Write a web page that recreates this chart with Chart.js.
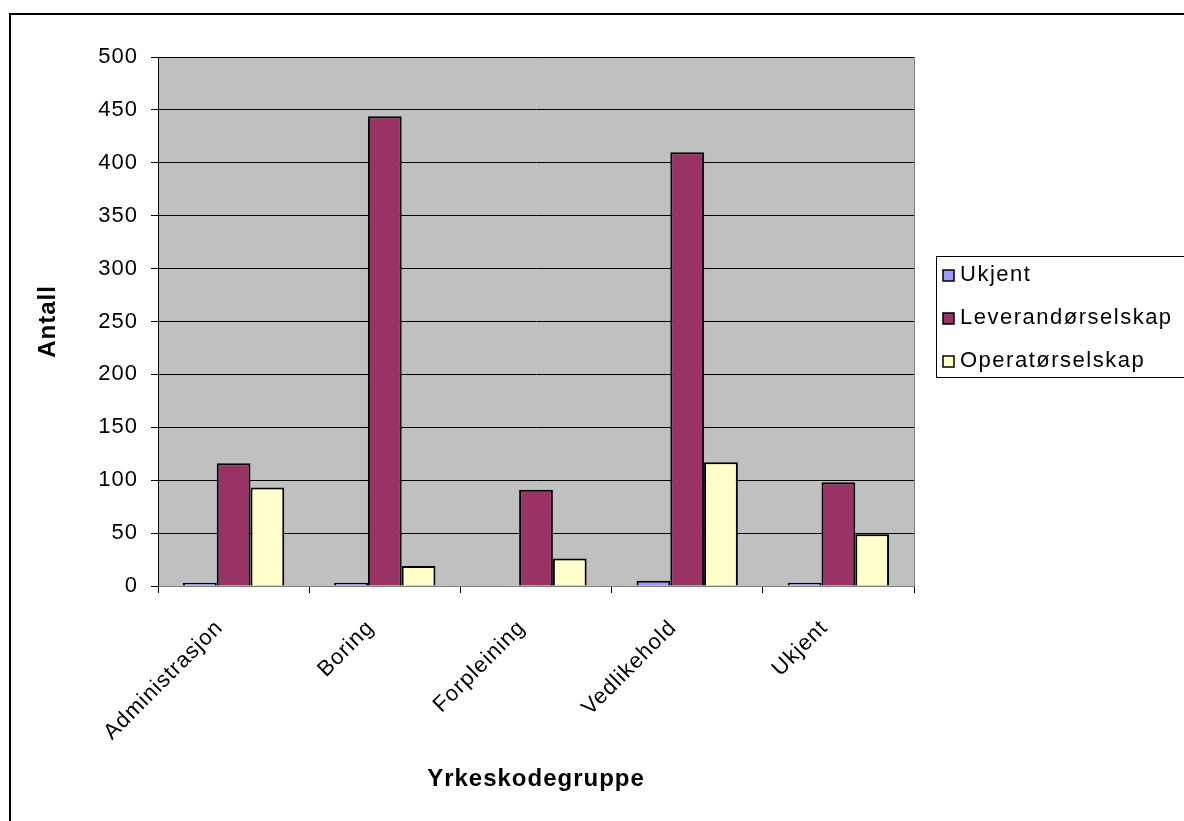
<!DOCTYPE html>
<html lang="no">
<head>
    <meta charset="UTF-8">
    <title>Antall per yrkeskodegruppe</title>
    <script src="https://cdn.jsdelivr.net/npm/chart.js"></script>
    <style>
        body { margin: 0; background: #fff; }
        #wrap { position: absolute; left: 0; top: 0; width: 1184px; height: 821px; }
    </style>
</head>
<body>
    <div id="wrap"><canvas id="chart" width="1184" height="821"></canvas></div>

    <script>
        const categories = ['Administrasjon', 'Boring', 'Forpleining', 'Vedlikehold', 'Ukjent'];
        const ukjent = [3, 3, 0, 5, 3];
        const leverandor = [116, 444, 91, 410, 98];
        const operator = [93, 19, 26, 117, 49];

        const FONT = 'Arial, "Liberation Sans", sans-serif';
        const FS = 22;

        // the original text is a bit wider than Liberation Sans, so space it out
        const spacing = {
            id: 'spacing',
            beforeLayout(chart) { chart.ctx.letterSpacing = '1px'; },
            beforeDraw(chart) { chart.ctx.letterSpacing = '1px'; }
        };

        // grey plot area, outer frame and the boxed legend
        const frame = {
            id: 'frame',
            beforeDraw(chart) {
                const { ctx, chartArea: a } = chart;
                ctx.save();
                ctx.fillStyle = '#fff';
                ctx.fillRect(0, 0, chart.width, chart.height);
                ctx.fillStyle = '#C0C0C0';
                ctx.fillRect(a.left, a.top, a.right - a.left, a.bottom - a.top);
                ctx.strokeStyle = '#808080';
                ctx.lineWidth = 1;
                ctx.strokeRect(a.left + 0.5, a.top + 0.5, a.right - a.left, a.bottom - a.top);
                ctx.restore();
            },
            afterDraw(chart) {
                const { ctx } = chart;
                ctx.save();
                ctx.strokeStyle = '#000';
                ctx.lineWidth = 2;
                ctx.strokeRect(10, 14, 1300, 1000);

                // legend
                ctx.lineWidth = 1;
                ctx.strokeRect(936.5, 256.5, 400, 121);
                ctx.font = FS + 'px ' + FONT;
                ctx.letterSpacing = '1.5px';
                ctx.textBaseline = 'middle';
                ctx.textAlign = 'left';
                chart.data.datasets.forEach((ds, i) => {
                    const y = 275 + i * 43;
                    ctx.fillStyle = ds.backgroundColor;
                    ctx.fillRect(943, y - 5, 11, 11);
                    ctx.strokeStyle = '#000';
                    ctx.lineWidth = 1.5;
                    ctx.strokeRect(943, y - 5, 11, 11);
                    ctx.fillStyle = '#000';
                    ctx.fillText(ds.label, 960, y);
                });
                ctx.restore();
            }
        };

        new Chart(document.getElementById('chart'), {
            type: 'bar',
            data: {
                labels: categories,
                datasets: [
                    { label: 'Ukjent', data: ukjent, backgroundColor: '#9999FF', borderColor: '#000', borderWidth: 2 },
                    { label: 'Leverandørselskap', data: leverandor, backgroundColor: '#993366', borderColor: '#000', borderWidth: 2 },
                    { label: 'Operatørselskap', data: operator, backgroundColor: '#FFFFCC', borderColor: '#000', borderWidth: 2 }
                ]
            },
            options: {
                responsive: false,
                animation: false,
                devicePixelRatio: 1,
                layout: { padding: { top: 57, right: 270, left: 0, bottom: 0 } },
                datasets: { bar: { categoryPercentage: 0.67, barPercentage: 1.0 } },
                plugins: {
                    legend: { display: false },
                    tooltip: { enabled: false }
                },
                scales: {
                    x: {
                        afterFit: (s) => { s.height = 235; },
                        grid: { drawOnChartArea: false, offset: true, tickLength: 7, tickColor: '#000' },
                        border: { color: '#808080' },
                        ticks: { minRotation: 45, maxRotation: 45, padding: 22, labelOffset: -14, color: '#000', font: { family: FONT, size: FS } },
                        title: { display: true, text: 'Yrkeskodegruppe', color: '#000', padding: { bottom: 27 }, font: { family: FONT, size: 24, weight: 'bold' } }
                    },
                    y: {
                        min: 0,
                        max: 500,
                        afterFit: (s) => { s.width = 158; },
                        grid: { color: '#000', lineWidth: 1, tickLength: 7, tickColor: '#000' },
                        border: { color: '#000' },
                        ticks: { stepSize: 50, padding: 13, color: '#000', font: { family: FONT, size: FS } },
                        title: { display: true, text: 'Antall', color: '#000', padding: { top: 34 }, font: { family: FONT, size: 24, weight: 'bold' } }
                    }
                }
            },
            plugins: [spacing, frame]
        });
    </script>
</body>
</html>
